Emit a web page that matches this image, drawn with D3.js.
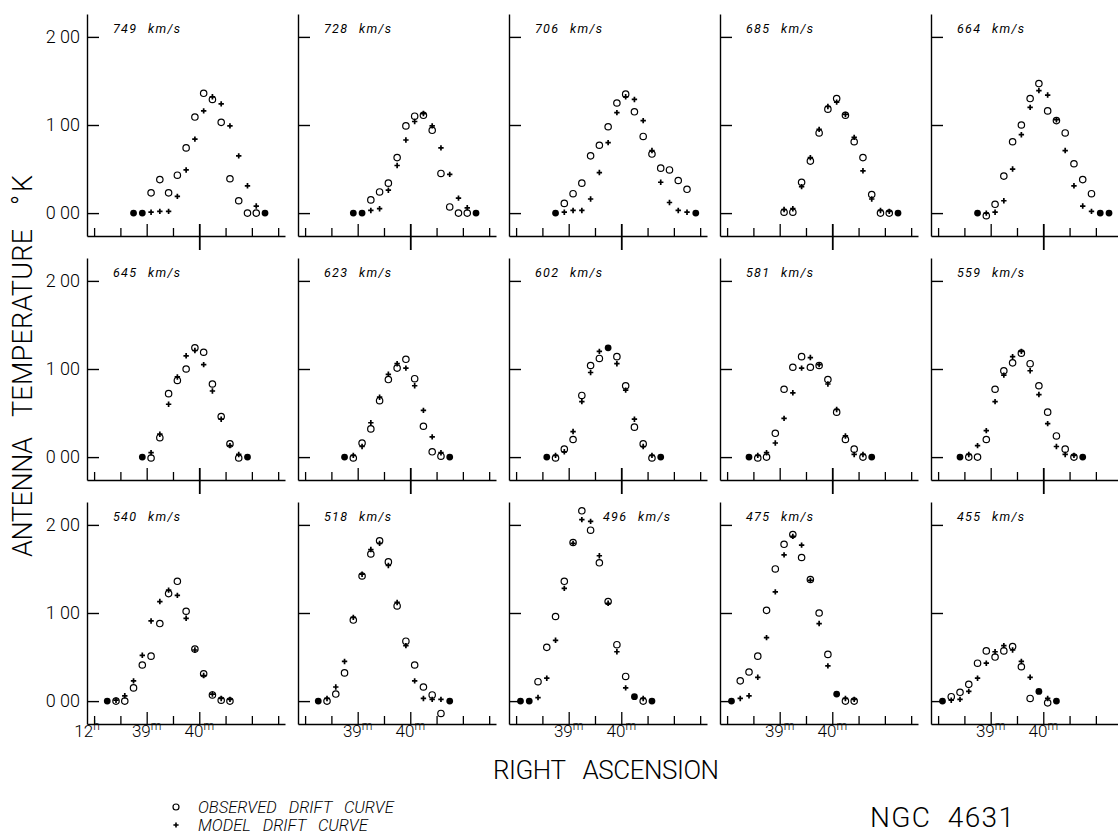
<!DOCTYPE html>
<html>
<head>
<meta charset="utf-8">
<script src="https://cdnjs.cloudflare.com/ajax/libs/d3/7.8.5/d3.min.js"></script>
<style>
body { margin: 0; background: #fff; }
svg { display: block; font-family: Roboto, "DejaVu Sans", sans-serif; }
</style>
</head>
<body>
<div id="chart"></div>
<script>
// RA of each drift sample, seconds after 12h 38m
var raSec = [5, 15, 25, 35, 45, 55, 65, 75, 85, 95, 105, 115, 125, 135, 145, 155, 165, 175, 185, 195, 205];
var xTicks = [0, 30, 60, 90, 120, 150, 180, 210];
var yTicks = [0, 100, 200];
var velocities = [749, 728, 706, 685, 664, 645, 623, 602, 581, 559, 540, 518, 496, 475, 455];

// antenna temperature (units of the plot, 100 = 1.00 K), observed and model
var obs749 = [null, null, null, null, 0, 0, 23, 38, 23, 43, 74, 109, 136, 129, 103, 39, 14, 0, 0, 0, null];
var mod749 = [null, null, null, null, 0, 0, 1, 2, 2, 19, 49, 84, 116, 132, 124, 99, 65, 31, 8, 0, null];
var obs728 = [null, null, null, null, null, 0, 0, 15, 24, 34, 63, 99, 110, 111, 94, 45, 7, 0, 0, 0, null];
var mod728 = [null, null, null, null, null, 0, 0, 3, 5, 26, 54, 83, 104, 113, 99, 74, 44, 17, 6, 0, null];
var obs706 = [null, null, null, null, 0, 11, 22, 34, 65, 77, 98, 125, 135, 115, 87, 67, 51, 49, 37, 27, 0];
var mod706 = [null, null, null, null, 0, 1, 3, 3, 16, 46, 80, 114, 132, 129, 105, 71, 35, 12, 3, 1, 0];
var obs685 = [null, null, null, null, null, null, 1, 1, 35, 59, 91, 118, 130, 111, 81, 63, 21, 0, 0, 0, null];
var mod685 = [null, null, null, null, null, null, 4, 5, 30, 63, 95, 121, 126, 112, 86, 48, 16, 3, 2, 0, null];
var obs664 = [null, null, null, null, 0, -3, 10, 42, 81, 100, 130, 147, 116, 105, 91, 56, 38, 22, 0, 0, null];
var mod664 = [null, null, null, null, 0, 0, 1, 14, 50, 89, 120, 139, 134, 106, 71, 31, 8, 2, 0, 0, null];

var obs645 = [null, null, null, null, null, 0, -1, 22, 72, 87, 100, 124, 119, 83, 46, 15, -1, 0, null, null, null];
var mod645 = [null, null, null, null, null, 0, 5, 26, 60, 91, 115, 121, 105, 75, 43, 13, 3, 0, null, null, null];
var obs623 = [null, null, null, null, 0, -1, 16, 32, 64, 88, 101, 111, 89, 35, 6, 1, 0, null, null, null, null];
var mod623 = [null, null, null, null, 0, 2, 12, 39, 68, 94, 106, 101, 81, 53, 23, 5, 0, null, null, null, null];
var obs602 = [null, null, null, 0, -1, 9, 20, 70, 104, 112, 124, 114, 81, 34, 15, -1, 0, null, null, null, null];
var mod602 = [null, null, null, 0, 2, 6, 29, 63, 96, 120, 124, 106, 76, 43, 12, 2, 0, null, null, null, null];
var obs581 = [null, null, 0, -1, 0, 27, 77, 102, 114, 102, 104, 88, 51, 20, 9, 0, 0, null, null, null, null];
var mod581 = [null, null, 0, 2, 5, 16, 44, 73, 101, 113, 105, 83, 54, 24, 3, 3, 0, null, null, null, null];
var obs559 = [null, null, 0, 0, 0, 20, 77, 98, 107, 118, 106, 81, 51, 24, 9, 0, 0, null, null, null, null];
var mod559 = [null, null, 0, 3, 13, 30, 63, 93, 114, 120, 98, 71, 38, 12, 3, 2, 0, null, null, null, null];

var obs540 = [null, 0, 0, 0, 15, 41, 51, 88, 122, 136, 102, 59, 31, 7, 1, 0, null, null, null, null, null];
var mod540 = [null, 0, 1, 6, 23, 52, 91, 113, 126, 120, 94, 58, 29, 8, 3, 2, null, null, null, null, null];
var obs518 = [null, 0, 0, 8, 32, 92, 142, 167, 182, 158, 108, 68, 41, 16, 7, -14, 0, null, null, null, null];
var mod518 = [null, 0, 3, 16, 45, 95, 144, 172, 179, 154, 112, 63, 23, 3, 2, 2, 0, null, null, null, null];
var obs496 = [0, 0, 22, 61, 96, 136, 180, 216, 194, 157, 113, 64, 28, 5, 0, 0, null, null, null, null, null];
var mod496 = [0, 0, 4, 26, 69, 128, 179, 206, 204, 165, 111, 56, 15, 5, 3, 0, null, null, null, null, null];
var obs475 = [0, 23, 33, 51, 103, 150, 178, 189, 163, 138, 100, 53, 8, 0, 0, null, null, null, null, null, null];
var mod475 = [0, 3, 6, 27, 72, 124, 166, 187, 177, 137, 88, 40, 8, 3, 2, null, null, null, null, null, null];
var obs455 = [0, 5, 10, 19, 43, 57, 50, 57, 62, 39, 3, 11, -2, 0, null, null, null, null, null, null, null];
var mod455 = [0, 1, 2, 11, 26, 43, 56, 63, 58, 45, 27, 11, 3, 0, null, null, null, null, null, null, null];

var observed = [obs749, obs728, obs706, obs685, obs664, obs645, obs623, obs602, obs581, obs559,
    obs540, obs518, obs496, obs475, obs455];
var model = [mod749, mod728, mod706, mod685, mod664, mod645, mod623, mod602, mod581, mod559,
    mod540, mod518, mod496, mod475, mod455];

// layout
var width = 1118, height = 835;
var panelW = 198, panelH = 222;
var colLeft = 87, colStep = 211;
var rowTop = 14, rowStep = 244;
var font = "Roboto, 'DejaVu Sans', sans-serif";

var svg = d3.select("#chart").append("svg")
    .attr("width", width)
    .attr("height", height);

var x = d3.scaleLinear().domain([-8.1, 217.8]).range([0, panelW]);
var y = d3.scaleLinear().domain([-26, 226]).range([panelH, 0]);

function plusPath(px, py, s) {
    return "M" + (px - s) + "," + py + "H" + (px + s) + "M" + px + "," + (py - s) + "V" + (py + s);
}

velocities.forEach(function (v, i) {
    var col = i % 5, row = Math.floor(i / 5);
    var g = svg.append("g")
        .attr("transform", "translate(" + (colLeft + col * colStep) + "," + (rowTop + row * rowStep) + ")");

    // left axis
    var yAxis = d3.axisLeft(y)
        .tickValues(yTicks)
        .tickSize(-12)
        .tickSizeOuter(0)
        .tickPadding(7)
        .tickFormat(function (d) { return col === 0 ? (d / 100) + " 00" : ""; });
    var ya = g.append("g").call(yAxis);
    ya.selectAll("path, line").attr("stroke-width", 1.4);
    ya.selectAll("text")
        .style("font-family", font)
        .style("font-size", "18px")
        .style("font-weight", 300)
        .attr("fill", "#000");

    // bottom axis
    var xAxis = d3.axisBottom(x)
        .tickValues(xTicks)
        .tickSize(-8)
        .tickSizeOuter(0)
        .tickFormat("");
    var xa = g.append("g")
        .attr("transform", "translate(0," + panelH + ")")
        .call(xAxis);
    xa.select(".domain").attr("stroke-width", 1.4);
    xa.selectAll(".tick line").attr("stroke-width", 1.3);
    xa.selectAll(".tick").filter(function (d) { return d === 60 || d === 120; })
        .select("line").attr("y2", -12);
    if (row < 2) {
        xa.selectAll(".tick").filter(function (d) { return d === 120; })
            .select("line").attr("y1", 14).attr("stroke-width", 1.8);
    }

    // minute labels under the bottom row
    if (row === 2) {
        var labs = [{ s: 60, t: "39", u: "m" }, { s: 120, t: "40", u: "m" }];
        if (col === 0) labs.unshift({ s: -8.1, t: "12", u: "h" });
        labs.forEach(function (l) {
            var t = g.append("text")
                .attr("x", x(l.s))
                .attr("y", panelH + 13)
                .attr("text-anchor", "middle")
                .style("font-size", "17px")
                .style("font-weight", 300);
            t.append("tspan").text(l.t);
            t.append("tspan").attr("dy", -7).style("font-size", "12px").text(l.u);
        });
    }

    // velocity label
    var lx = i === 12 ? 94 : 26;
    var vt = g.append("text")
        .attr("y", 18.5)
        .style("font-size", "12.5px")
        .style("font-style", "italic")
        .style("letter-spacing", "1.3px");
    vt.append("tspan").attr("x", lx).text(v);
    vt.append("tspan").attr("x", lx + 35).text("km/s");

    // drift points
    var pts = raSec.map(function (s, j) {
        return { s: s, o: observed[i][j], m: model[i][j] };
    }).filter(function (d) { return d.o !== null; });

    g.selectAll("circle.filled")
        .data(pts.filter(function (d) { return d.o === d.m; }))
        .enter().append("circle")
        .attr("class", "filled")
        .attr("cx", function (d) { return x(d.s); })
        .attr("cy", function (d) { return y(d.o); })
        .attr("r", 3.4)
        .attr("fill", "#000");

    var open = pts.filter(function (d) { return d.o !== d.m; });
    g.selectAll("circle.obs")
        .data(open)
        .enter().append("circle")
        .attr("class", "obs")
        .attr("cx", function (d) { return x(d.s); })
        .attr("cy", function (d) { return y(d.o); })
        .attr("r", 3.2)
        .attr("fill", "none")
        .attr("stroke", "#000")
        .attr("stroke-width", 1.2);
    g.selectAll("path.mod")
        .data(open)
        .enter().append("path")
        .attr("class", "mod")
        .attr("d", function (d) { return plusPath(x(d.s), y(d.m), 2.7); })
        .attr("stroke", "#000")
        .attr("stroke-width", 1.7);
});

// axis titles
function vLabel(txt, cy, len) {
    svg.append("text")
        .attr("transform", "translate(32," + cy + ") rotate(-90)")
        .attr("text-anchor", "middle")
        .attr("textLength", len)
        .attr("lengthAdjust", "spacing")
        .style("font-size", "27px")
        .style("font-weight", 300)
        .text(txt);
}
vLabel("ANTENNA", 497, 120);
vLabel("TEMPERATURE", 323, 188);
vLabel("°K", 190, 30);

svg.append("text")
    .attr("x", 606)
    .attr("y", 779)
    .attr("text-anchor", "middle")
    .attr("textLength", 226)
    .attr("lengthAdjust", "spacing")
    .style("font-size", "26px")
    .style("font-weight", 300)
    .style("white-space", "pre")
    .text("RIGHT   ASCENSION");

svg.append("text")
    .attr("x", 942)
    .attr("y", 827)
    .attr("text-anchor", "middle")
    .attr("textLength", 144)
    .attr("lengthAdjust", "spacing")
    .style("font-size", "28px")
    .style("font-weight", 300)
    .style("white-space", "pre")
    .text("NGC  4631");

// legend
var legend = svg.append("g");
legend.append("circle")
    .attr("cx", 176).attr("cy", 807).attr("r", 3)
    .attr("fill", "none").attr("stroke", "#000").attr("stroke-width", 1.2);
legend.append("path")
    .attr("d", plusPath(176, 825, 2.6))
    .attr("stroke", "#000").attr("stroke-width", 1.6);
legend.selectAll("text")
    .data(["OBSERVED   DRIFT   CURVE", "MODEL   DRIFT   CURVE"])
    .enter().append("text")
    .attr("x", 198)
    .attr("y", function (d, i) { return 813 + i * 18; })
    .style("font-size", "16.5px")
    .style("font-style", "italic")
    .style("font-weight", 300)
    .style("white-space", "pre")
    .text(function (d) { return d; });
</script>
</body>
</html>
